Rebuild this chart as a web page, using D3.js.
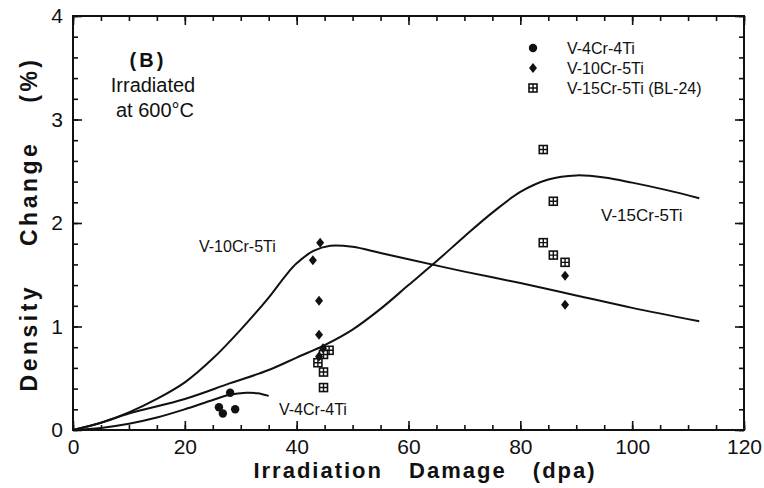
<!DOCTYPE html>
<html>
<head>
<meta charset="utf-8">
<script src="https://cdn.jsdelivr.net/npm/d3@7/dist/d3.min.js"></script>
<style>
  body { margin: 0; background: #fff; }
  svg text { font-family: "Liberation Sans Narrow", "Liberation Sans", Arial, sans-serif; fill: #111; }
</style>
</head>
<body>
<svg id="chart" width="764" height="488"></svg>
<script>
// tick labels
const xTicks = [0, 20, 40, 60, 80, 100, 120];
const yTicks = [0, 1, 2, 3, 4];

// fitted curves [dpa, %]
const curve4Cr = [[0,0],[5,0.02],[10,0.06],[15,0.12],[20,0.2],[25,0.29],[28,0.34],[31,0.36],[33,0.355],[35,0.33]];
const curve10Cr = [[0,0],[5,0.07],[10,0.17],[15,0.3],[20,0.46],[25,0.69],[30,0.97],[35,1.28],[38,1.49],[40,1.61],[43,1.73],[46,1.78],[50,1.77],[55,1.71],[60,1.65],[70,1.53],[80,1.42],[90,1.3],[100,1.18],[112,1.05]];
const curve15Cr = [[0,0],[5,0.07],[10,0.16],[20,0.3],[28,0.45],[35,0.58],[40,0.7],[45,0.82],[50,0.97],[55,1.17],[60,1.4],[65,1.63],[70,1.87],[75,2.1],[80,2.3],[85,2.42],[90,2.46],[95,2.44],[100,2.39],[106,2.32],[112,2.24]];

// measured points
const pts4Cr = [[26.1,0.22],[26.8,0.16],[28.1,0.36],[29.0,0.20]];
const pts10Cr = [[44.2,1.81],[42.9,1.64],[44.0,1.25],[44.0,0.92],[44.7,0.79],[44.0,0.71],[88.0,1.49],[88.0,1.21]];
const pts15Cr = [[84.1,2.71],[85.9,2.21],[84.1,1.81],[85.9,1.69],[88.0,1.62],[45.8,0.77],[43.8,0.65],[44.8,0.56],[44.8,0.41],[44.8,0.73]];

const legendNames = ["V-4Cr-4Ti", "V-10Cr-5Ti", "V-15Cr-5Ti (BL-24)"];

const margin = {top: 16, right: 20, bottom: 58, left: 73};
const width = 764, height = 488;

const svg = d3.select("#chart");

const x = d3.scaleLinear().domain([0, 120]).range([margin.left, width - margin.right]);
const y = d3.scaleLinear().domain([0, 4]).range([height - margin.bottom, margin.top]);

// frame
svg.append("rect")
  .attr("x", x(0)).attr("y", y(4))
  .attr("width", x(120) - x(0)).attr("height", y(0) - y(4))
  .attr("fill", "none").attr("stroke", "#111").attr("stroke-width", 2);

function tickAxis(axisFn, scale, values, size, transform, labels) {
  const g = svg.append("g").attr("transform", transform)
    .call(axisFn(scale).tickValues(values).tickSize(size).tickPadding(6)
      .tickFormat(labels ? d3.format("d") : ""));
  g.select(".domain").remove();
  g.selectAll("line").attr("stroke", "#111").attr("stroke-width", 1.6);
  return g;
}

const xMinor = d3.range(0, 121, 5);
const yMinor = d3.range(0, 4.01, 0.2);

// bottom
tickAxis(d3.axisBottom, x, xMinor, -5, `translate(0,${y(0)})`, false);
const gx = tickAxis(d3.axisBottom, x, xTicks, -9, `translate(0,${y(0)})`, true);
gx.selectAll("text").attr("y", 9).attr("font-size", 21);
// top
tickAxis(d3.axisTop, x, xMinor, -5, `translate(0,${y(4)})`, false);
tickAxis(d3.axisTop, x, xTicks, -9, `translate(0,${y(4)})`, false);
// left
tickAxis(d3.axisLeft, y, yMinor, -5, `translate(${x(0)},0)`, false);
const gy = tickAxis(d3.axisLeft, y, yTicks, -9, `translate(${x(0)},0)`, true);
gy.selectAll("text").attr("x", -10).attr("font-size", 21);
// right
tickAxis(d3.axisRight, y, yMinor, -5, `translate(${x(120)},0)`, false);
tickAxis(d3.axisRight, y, yTicks, -9, `translate(${x(120)},0)`, false);

// curves
const line = d3.line().x(d => x(d[0])).y(d => y(d[1])).curve(d3.curveCatmullRom.alpha(0.5));
[curve4Cr, curve10Cr, curve15Cr].forEach(c => {
  svg.append("path").datum(c)
    .attr("d", line)
    .attr("fill", "none").attr("stroke", "#111").attr("stroke-width", 2);
});

// markers
function circleMark(g, cx, cy) {
  g.append("circle").attr("cx", cx).attr("cy", cy).attr("r", 4.2).attr("fill", "#111");
}
function diamondMark(g, cx, cy) {
  g.append("path").attr("d", `M${cx},${cy - 5}L${cx + 4},${cy}L${cx},${cy + 5}L${cx - 4},${cy}Z`)
    .attr("fill", "#111");
}
function squareMark(g, cx, cy) {
  const s = 8;
  g.append("rect").attr("x", cx - s / 2).attr("y", cy - s / 2).attr("width", s).attr("height", s)
    .attr("fill", "#fff").attr("stroke", "#111").attr("stroke-width", 1.6);
  g.append("path").attr("d", `M${cx - s / 2},${cy}H${cx + s / 2}M${cx},${cy - s / 2}V${cy + s / 2}`)
    .attr("stroke", "#111").attr("stroke-width", 1.4);
}

const gm = svg.append("g");
pts15Cr.forEach(d => squareMark(gm, x(d[0]), y(d[1])));
pts10Cr.forEach(d => diamondMark(gm, x(d[0]), y(d[1])));
pts4Cr.forEach(d => circleMark(gm, x(d[0]), y(d[1])));

// legend
const markFns = [circleMark, diamondMark, squareMark];
const lg = svg.append("g");
legendNames.forEach((name, i) => {
  const ly = 48 + i * 20;
  markFns[i](lg, 533, ly);
  lg.append("text").attr("x", 567).attr("y", ly + 6).attr("font-size", 16).text(name);
});

// annotations
const ann = svg.append("g").attr("font-size", 20).attr("text-anchor", "middle");
ann.append("text").attr("x", 148).attr("y", 67).attr("font-weight", "bold").attr("font-size", 20)
  .attr("letter-spacing", 3).text("(B)");
ann.append("text").attr("x", 153).attr("y", 92).text("Irradiated");
ann.append("text").attr("x", 155).attr("y", 117).text("at 600°C");

svg.append("text").attr("x", 199).attr("y", 252).attr("font-size", 16).text("V-10Cr-5Ti");
svg.append("text").attr("x", 601).attr("y", 221).attr("font-size", 17).text("V-15Cr-5Ti");
svg.append("text").attr("x", 279).attr("y", 415).attr("font-size", 16).text("V-4Cr-4Ti");

// axis titles
svg.append("text")
  .attr("x", 425).attr("y", 478).attr("text-anchor", "middle")
  .attr("font-family", "'Liberation Sans', Arial, sans-serif")
  .attr("font-weight", "bold").attr("font-size", 22).attr("letter-spacing", 2)
  .attr("word-spacing", 18)
  .text("Irradiation Damage (dpa)");

svg.append("text")
  .attr("transform", `translate(37,224) rotate(-90)`)
  .attr("text-anchor", "middle")
  .attr("font-family", "'Liberation Sans', Arial, sans-serif")
  .attr("font-weight", "bold").attr("font-size", 23).attr("letter-spacing", 3.5)
  .attr("word-spacing", 28)
  .text("Density Change (%)");
</script>
</body>
</html>
